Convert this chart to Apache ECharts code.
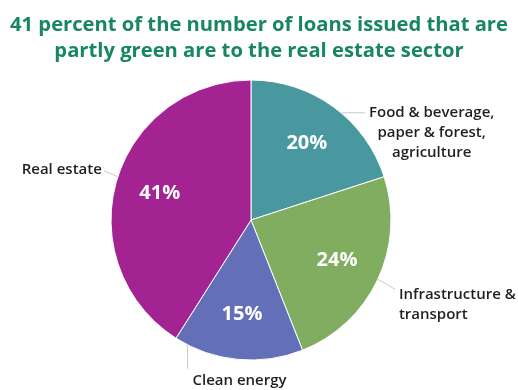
<!DOCTYPE html>
<html>
<head>
<meta charset="utf-8">
<script src="https://cdn.jsdelivr.net/npm/echarts@6/dist/echarts.min.js"></script>
<style>
html,body{margin:0;padding:0;background:#fff;}
#chart{width:518px;height:390px;}
</style>
</head>
<body>
<div id="chart"></div>
<script>
var titleText = '41 percent of the number of loans issued that are\npartly green are to the real estate sector';
var categories = ['Food & beverage,\npaper & forest,\nagriculture', 'Infrastructure &\ntransport', 'Clean energy', 'Real estate'];
var shares = [20, 24, 15, 41];
var colors = ['#4A989F', '#80AD5F', '#6370B7', '#A22391'];

var CX = 251, CY = 220, R = 140, LH = 20;

// leader-line annotation geometry: start angle on the rim (deg, clockwise from 12 o'clock),
// line vector, label offset from line end, text alignment
var leaders = [
  {angle: 40, vec: [24, 0], off: [4, 0], align: 'center'},
  {angle: 115, vec: [17, 10], off: [4, 6], align: 'left'},
  {angle: 207, vec: [0, 24], off: [5, 12], align: 'left'},
  {angle: 288, vec: [-14, -6], off: [-2, -1], align: 'right'}
];

var chart = echarts.init(document.getElementById('chart'));

var outerData = categories.map(function (c, i) {
  return {name: c, value: shares[i], itemStyle: {color: colors[i]}};
});
var innerData = categories.map(function (c, i) {
  return {name: c, value: shares[i]};
});

function labelLayout(p) {
  var L = leaders[p.dataIndex];
  var a = L.angle * Math.PI / 180;
  var sx = CX + R * Math.sin(a), sy = CY - R * Math.cos(a);
  var ex = sx + L.vec[0], ey = sy + L.vec[1];
  var w = p.labelRect.width, h = p.labelRect.height;
  var firstLineY = ey + L.off[1];
  var y = firstLineY + h / 2 - LH / 2;
  var x = ex + L.off[0];
  if (L.align === 'center') x += w / 2;
  return {
    x: x,
    y: y,
    align: L.align,
    verticalAlign: 'middle',
    labelLinePoints: [[sx, sy], [(sx + ex) / 2, (sy + ey) / 2], [ex, ey]]
  };
}

chart.setOption({
  animation: false,
  title: {
    text: titleText,
    left: 'center',
    top: 7,
    textStyle: {
      fontFamily: 'Open Sans',
      fontWeight: 'bold',
      fontSize: 20.2,
      lineHeight: 26,
      color: '#17875F'
    }
  },
  series: [
    {
      type: 'pie',
      center: [CX, CY],
      radius: R,
      startAngle: 90,
      clockwise: true,
      data: outerData,
      itemStyle: {borderColor: '#ffffff', borderWidth: 1},
      label: {
        show: true,
        position: 'outside',
        formatter: '{b}',
        fontFamily: 'Open Sans',
        fontWeight: 600,
        fontSize: 15,
        lineHeight: LH,
        color: '#231f20',
        overflow: 'none',
        edgeDistance: 0,
        bleedMargin: 0
      },
      labelLine: {
        show: true,
        length: 10,
        length2: 10,
        lineStyle: {color: '#c8c8c8', width: 1}
      },
      labelLayout: labelLayout,
      emphasis: {disabled: true}
    },
    {
      type: 'pie',
      center: [CX, CY],
      radius: [44, R],
      startAngle: 90,
      clockwise: true,
      silent: true,
      data: innerData,
      itemStyle: {color: 'rgba(0,0,0,0)'},
      label: {
        show: true,
        position: 'inside',
        formatter: '{c}%',
        fontFamily: 'Open Sans',
        fontWeight: 'bold',
        fontSize: 20,
        color: '#ffffff'
      },
      labelLine: {show: false},
      emphasis: {disabled: true}
    }
  ]
});
</script>
</body>
</html>
